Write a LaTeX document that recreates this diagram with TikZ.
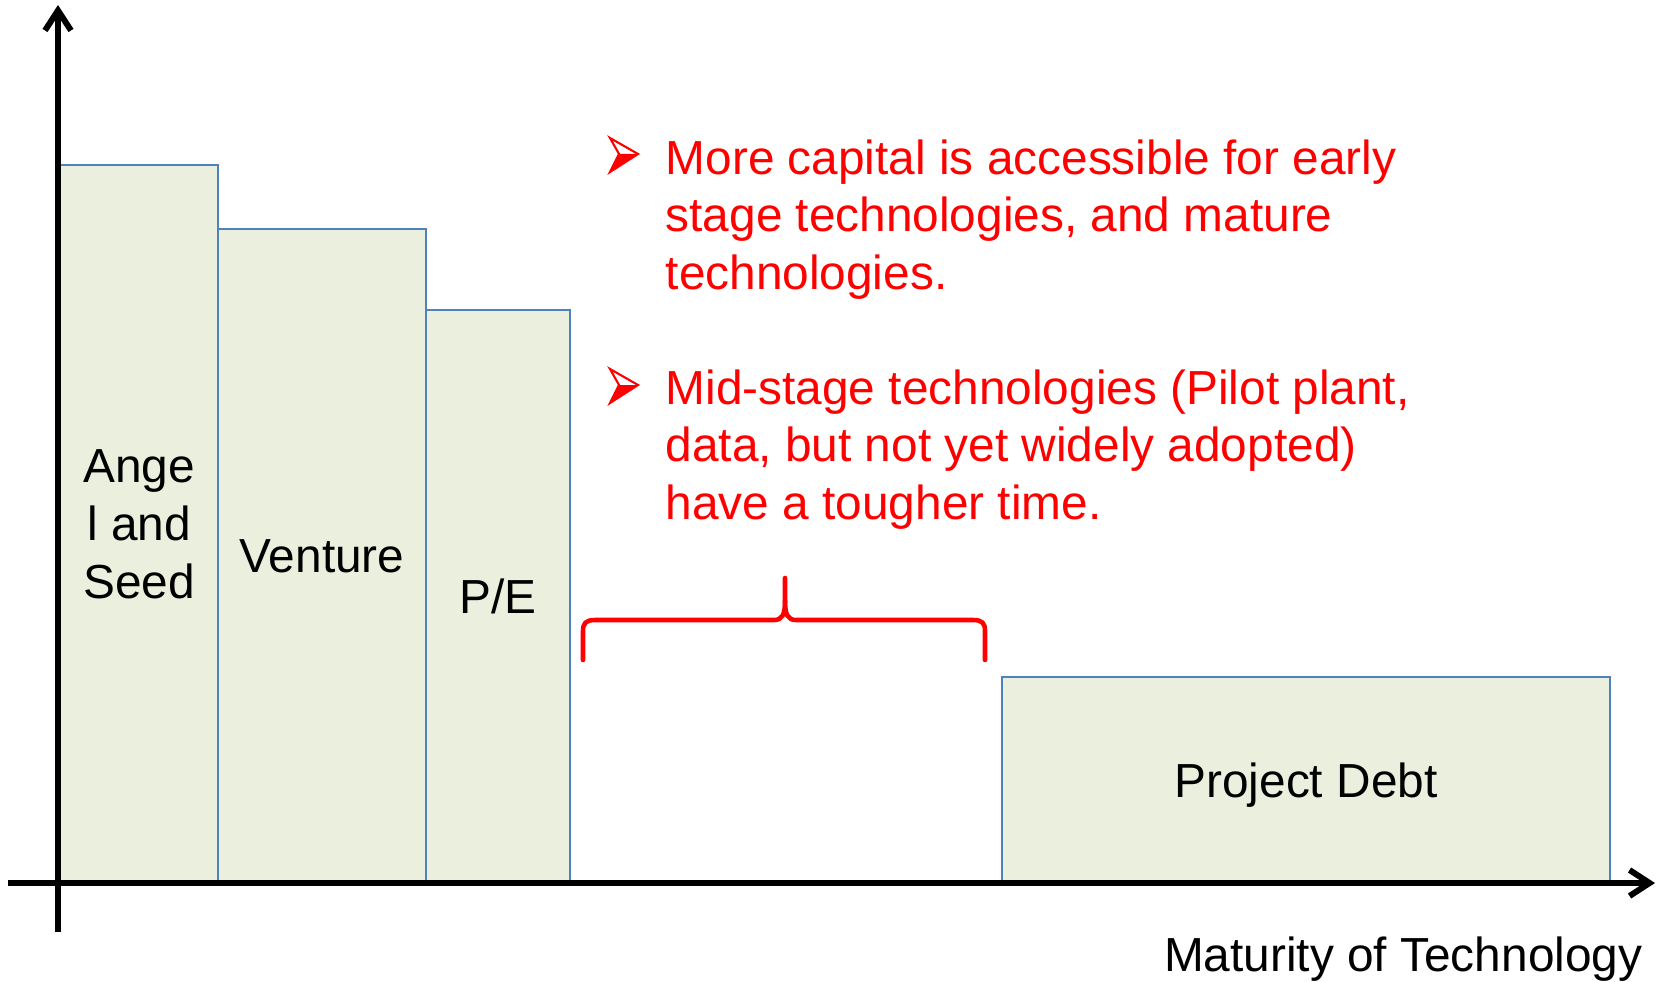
\documentclass[tikz,border=0pt]{standalone}
\usepackage{fontspec}
\setmainfont{Liberation Sans}
\usetikzlibrary{arrows.meta}
\definecolor{balkenfill}{HTML}{EBEFDE}
\definecolor{balkenrand}{HTML}{4F81BD}

\begin{document}
\begin{tikzpicture}[axis/.style={line width=1.7pt,-{Straight Barb[length=0.2cm,width=0.26cm,line width=1.7pt]}},
    bar/.style={draw=balkenrand,fill=balkenfill,line width=0.6pt,anchor=south west,inner sep=0pt,outer sep=0pt,
        align=center,text depth=-0.08cm,font=\fontsize{13.6}{16.4}\selectfont},
    note/.style={text=red,anchor=north west,inner sep=0pt,align=left,font=\fontsize{13.6}{16.4}\selectfont},
    klammer/.style={red,line width=1.3pt,line cap=round},
    bulletarrow/.pic={
        \fill[red] (-0.28,-0.18) -- (0,0) -- (-0.19,0) -- cycle;
        \draw[red,line width=0.6pt,line join=miter] (-0.28,0.16) -- (0,0) -- (-0.28,-0.18) -- (-0.19,0) -- cycle;
    }]
    \useasboundingbox (0,0) rectangle (16.64,9.81);

    % Achsen
    \coordinate (xstart) at (0.08,0.98);
    \coordinate (xend) at (16.55,0.98);
    \coordinate (ystart) at (0.58,0.49);
    \coordinate (yend) at (0.58,9.76);

    % Balken
    \node[bar,minimum width=1.58cm,minimum height=7.18cm] (angel) at (0.60,0.98) {Ange\\l and\\Seed};
    \node[bar,minimum width=2.08cm,minimum height=6.54cm] (venture) at (angel.south east) {Venture};
    \node[bar,minimum width=1.44cm,minimum height=5.73cm] (pe) at (venture.south east) {P/E};
    \node[bar,minimum width=6.08cm,minimum height=2.06cm,text depth=-0.07cm] (debt) at (10.02,0.98) {Project Debt};

    \draw[axis] (xstart) -- (xend);
    \draw[axis] (ystart) -- (yend);
    \node[anchor=base east,inner sep=0pt,font=\fontsize{13.6}{16.4}\selectfont] (maturity) at (16.43,0.10) {Maturity of Technology};

    % Aussagen
    \pic at (6.38,8.27) {bulletarrow};
    \node[note] (punkt1) at (6.65,8.42) {More capital is accessible for early\\stage technologies, and mature\\technologies.};
    \pic at (6.38,5.96) {bulletarrow};
    \node[note] (punkt2) at (6.65,6.12) {Mid-stage technologies (Pilot plant,\\data, but not yet widely adopted)\\have a tougher time.};

    % Klammer
    \draw[klammer] (5.83,3.21) -- (5.83,3.50) .. controls (5.83,3.58) and (5.86,3.61) .. (5.95,3.61)
                   -- (7.74,3.61) .. controls (7.82,3.61) and (7.85,3.66) .. (7.85,3.80) -- (7.85,4.03);
    \draw[klammer] (9.85,3.21) -- (9.85,3.50) .. controls (9.85,3.58) and (9.82,3.61) .. (9.73,3.61)
                   -- (7.96,3.61) .. controls (7.88,3.61) and (7.85,3.66) .. (7.85,3.80);
\end{tikzpicture}
\end{document}
